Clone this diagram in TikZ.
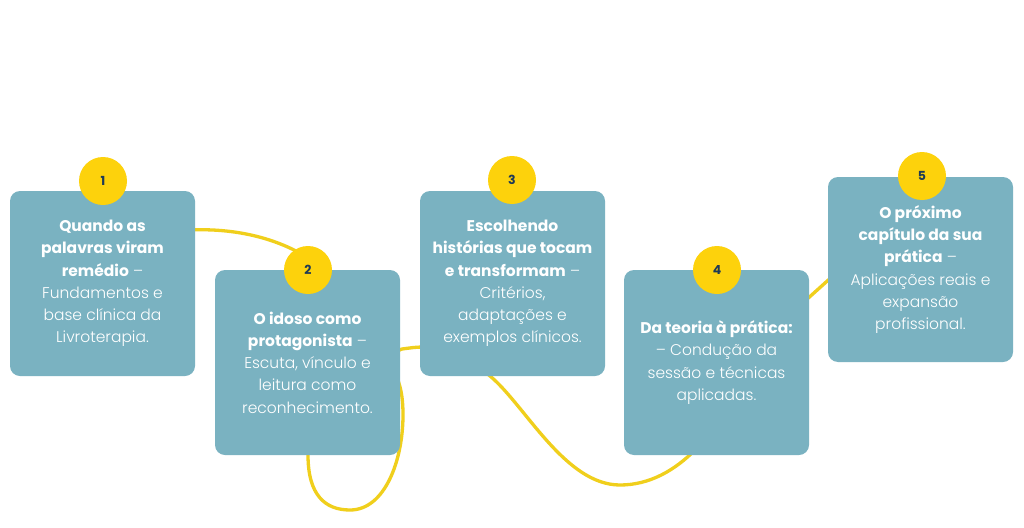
\documentclass[tikz,border=0pt]{standalone}
\usepackage{fontspec}
\setmainfont{Poppins Light}[BoldFont={Poppins Bold}]
\definecolor{boxteal}{HTML}{7AB2C1}
\definecolor{dotyellow}{HTML}{FDD20C}
\definecolor{lineyellow}{HTML}{F0CF1C}
\definecolor{numnavy}{HTML}{1E3A56}
\tikzset{
  stepbox/.style={fill=boxteal, rounded corners=10pt, minimum width=185pt, minimum height=185pt,
    inner sep=0pt, text=white, align=center, font=\fontsize{15.5}{22.3}\selectfont},
  numdot/.style={circle, fill=dotyellow, minimum size=48pt, inner sep=0pt, text=numnavy,
    font=\fontsize{12.5}{14}\selectfont\bfseries},
  wave/.style={draw=lineyellow, line width=3.3pt}
}
\begin{document}
\begin{tikzpicture}[x=1pt,y=-1pt]
\useasboundingbox (0,0) rectangle (1024,527);
\fill[white] (0,0) rectangle (1024,527);
% winding line behind the boxes
\draw[wave] (190,230) .. controls (235,228) and (275,238) .. (305,256)
  .. controls (315,300) and (308,400) .. (308,455)
  .. controls (308,495) and (325,510) .. (350,510)
  .. controls (385,510) and (403,460) .. (403,415)
  .. controls (403,395) and (400,385) .. (396,375)
  .. controls (393,362) and (395,350) .. (402,349)
  .. controls (410,348) and (415,347) .. (425,347)
  .. controls (460,347) and (470,360) .. (490,376)
  .. controls (525,405) and (565,485) .. (620,485)
  .. controls (650,485) and (675,470) .. (695,450)
  .. controls (740,400) and (780,325) .. (805,301)
  -- (835,274);
% boxes
\node[stepbox] (b1) at (102.5,283.5) {\textbf{Quando as}\\\textbf{palavras viram}\\\textbf{remédio} –\\Fundamentos e\\base clínica da\\Livroterapia.};
\node[stepbox] (b2) at (307.5,362.5) {\textbf{O idoso como}\\\textbf{protagonista} –\\Escuta, vínculo e\\leitura como\\reconhecimento.};
\node[stepbox] (b3) at (512.5,283.5) {\textbf{Escolhendo}\\\textbf{histórias que tocam}\\\textbf{e transformam} –\\Critérios,\\adaptações e\\exemplos clínicos.};
\node[stepbox] (b4) at (716.5,362.5) {\textbf{Da teoria à prática:}\\– Condução da\\sessão e técnicas\\aplicadas.};
\node[stepbox] (b5) at (920.5,269.5) {\textbf{O próximo}\\\textbf{capítulo da sua}\\\textbf{prática} –\\Aplicações reais e\\expansão\\profissional.};
% number dots
\node[numdot] (n1) at (103,181) {1};
\node[numdot] (n2) at (308,270) {2};
\node[numdot] (n3) at (512,180) {3};
\node[numdot] (n4) at (717,270) {4};
\node[numdot] (n5) at (922,176) {5};
\end{tikzpicture}
\end{document}
